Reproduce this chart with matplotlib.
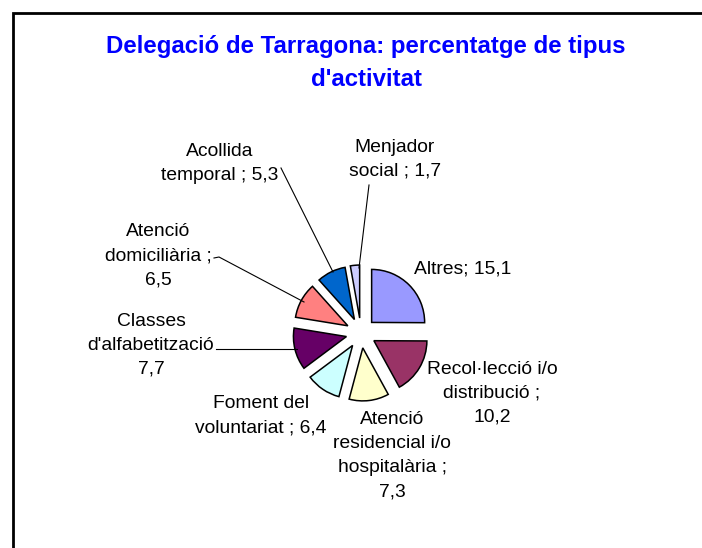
import matplotlib
matplotlib.use("Agg")
import matplotlib.pyplot as plt

plt.rcParams["font.family"] = ["Liberation Sans", "DejaVu Sans"]

# data
categories = ["Altres", "Recol·lecció i/o distribució", "Atenció residencial i/o hospitalària",
              "Foment del voluntariat", "Classes d'alfabetització", "Atenció domiciliària",
              "Acollida temporal", "Menjador social"]
values = [15.1, 10.2, 7.3, 6.4, 7.7, 6.5, 5.3, 1.7]
colors = ["#9999FF", "#993366", "#FFFFCC", "#CCFFFF", "#660066", "#FF8080", "#0066CC", "#CCCCFF"]
label_lines = [
    ["Altres; 15,1"],
    ["Recol·lecció i/o", "distribució ;", "10,2"],
    ["Atenció", "residencial i/o", "hospitalària ;", "7,3"],
    ["Foment del", "voluntariat ; 6,4"],
    ["Classes", "d'alfabetització", "7,7"],
    ["Atenció", "domiciliària ;", "6,5"],
    ["Acollida", "temporal ; 5,3"],
    ["Menjador", "social ; 1,7"],
]

W, H = 702, 548
fig = plt.figure(figsize=(W / 100, H / 100), dpi=100)
ax = fig.add_axes([0, 0, 1, 1])

def Y(py):
    return H - py

# pie in pixel units; explode is an absolute offset here
cx, cy, r = 361, 333, 53
ax.pie(values, colors=colors, startangle=90, counterclock=False,
       center=(cx, Y(cy)), radius=r, explode=[15] * len(values),
       wedgeprops=dict(edgecolor="black", linewidth=1.1))

ax.set_xlim(0, W)
ax.set_ylim(0, H)
ax.set_aspect("auto")
ax.axis("off")

# label anchors (center x, first line y) in pixels
anchors = [(463, 269), (492, 369), (392, 420), (261, 404),
           (151, 321), (158, 232), (220, 152), (395, 147)]
step = 24
for lines, (lx, ly) in zip(label_lines, anchors):
    for i, s in enumerate(lines):
        ax.text(lx, Y(ly + i * step), s, fontsize=13.9, ha="center", va="center", color="black")

# leader lines
leaders = [
    [(369, 185), (359, 268)],
    [(281, 168), (333, 272)],
    [(214, 258), (219, 257), (304, 302)],
    [(216, 349), (297, 349)],
]
for seg in leaders:
    xs = [p[0] for p in seg]
    ys = [Y(p[1]) for p in seg]
    ax.plot(xs, ys, color="black", lw=0.8)

# title
ax.text(366, Y(47), "Delegació de Tarragona: percentatge de tipus", fontsize=17.3,
        fontweight="bold", color="#0000FF", ha="center", va="center")
ax.text(366, Y(80), "d'activitat", fontsize=17.3, fontweight="bold", color="#0000FF",
        ha="center", va="center")

# chart area frame (right/bottom edges fall outside the image)
ax.plot([13, 13, 720], [Y(560), Y(13), Y(13)], color="black", lw=2, clip_on=False,
        solid_joinstyle="miter")

fig.savefig("out.png", dpi=100)
